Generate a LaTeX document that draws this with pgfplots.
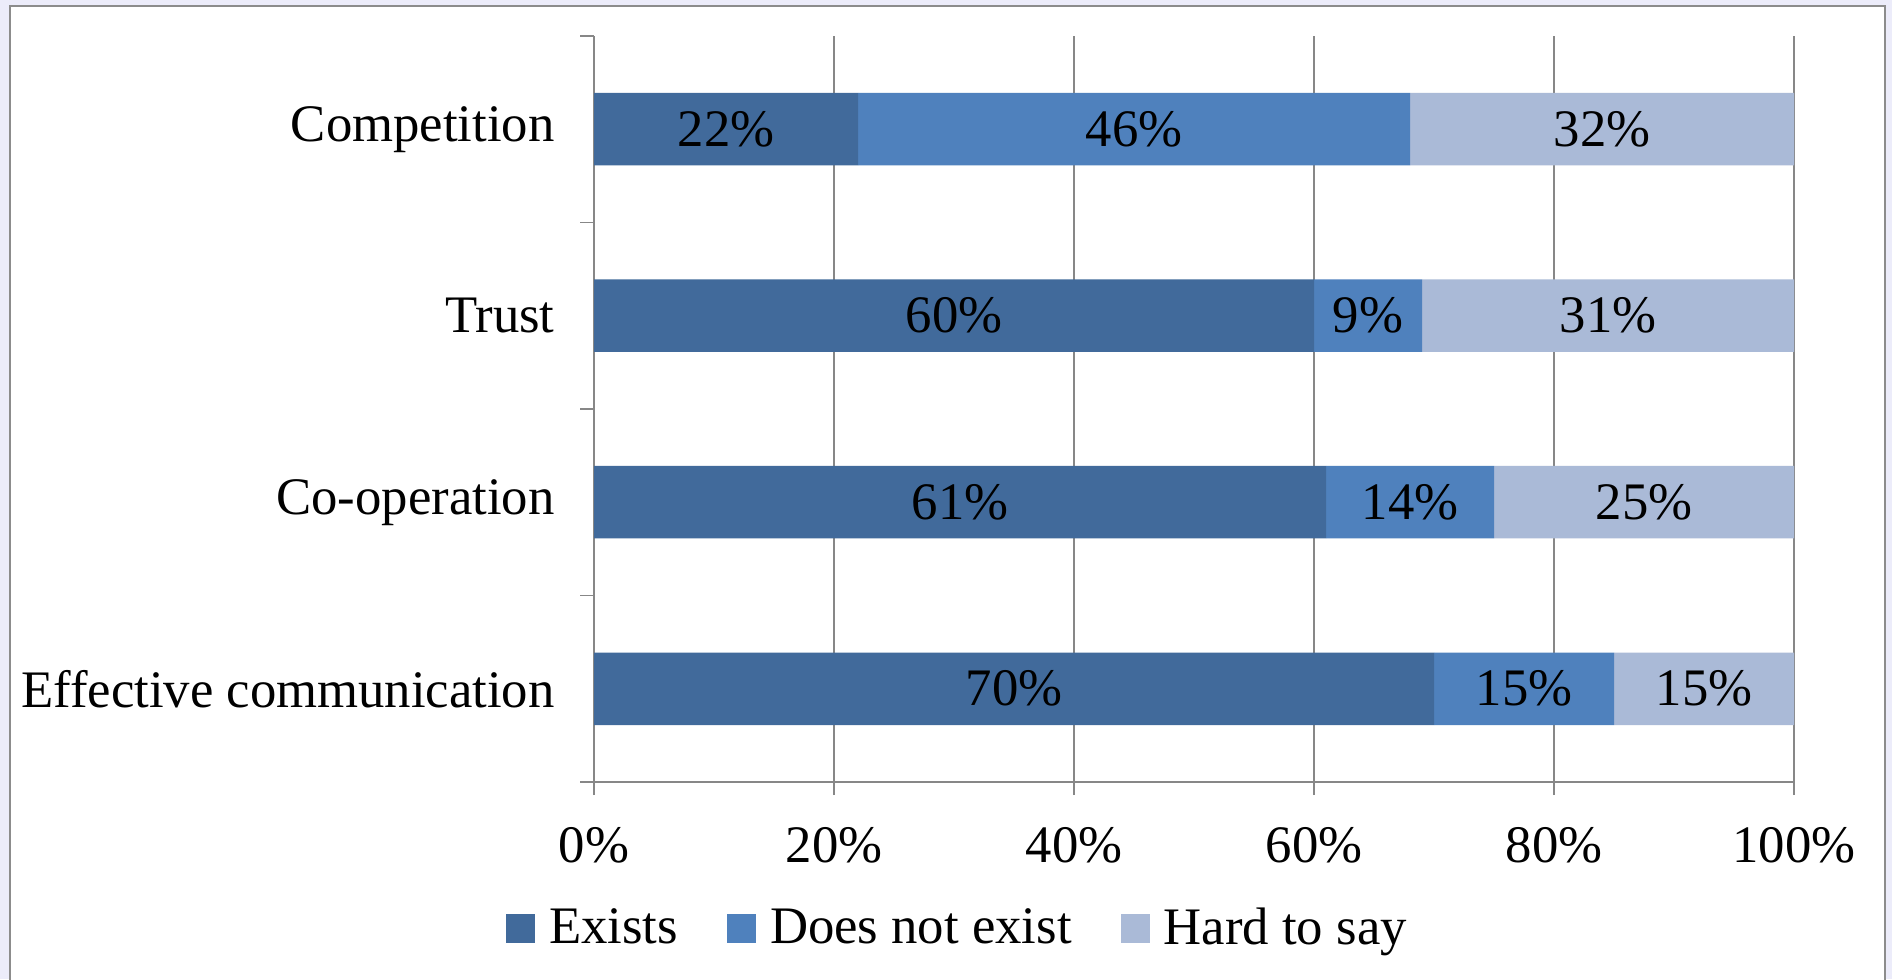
\documentclass[border=0pt]{standalone}
\usepackage{pgfplots}
\pgfplotsset{compat=1.18}
\usepackage{fontspec}
\setmainfont{Liberation Serif}
\definecolor{cA}{HTML}{416A9B}
\definecolor{cB}{HTML}{4F81BD}
\definecolor{cC}{HTML}{AABAD7}
\definecolor{bgl}{HTML}{ECECFA}
\definecolor{frm}{HTML}{8C8C8C}
\definecolor{grd}{HTML}{878787}
\newcommand{\lblfont}{\fontsize{15}{17}\selectfont}
\begin{document}
\begin{tikzpicture}
\useasboundingbox (0mm,0mm) rectangle (189.2mm,97.9mm);
\fill[bgl] (0mm,0mm) rectangle (189.2mm,97.9mm);
\fill[white] (1.0mm,-1mm) rectangle (188.5mm,97.3mm);
\draw[frm, line width=0.6pt] (1.0mm,-1mm) -- (1.0mm,97.3mm) -- (188.5mm,97.3mm) -- (188.5mm,-1mm);
\begin{axis}[
  at={(59.4mm,19.7mm)}, anchor=south west,
  scale only axis, width=120mm, height=74.6mm,
  xbar stacked, bar width=7.25mm,
  xmin=0, xmax=100, ymin=-0.5, ymax=3.5,
  axis x line*=bottom, axis y line*=left,
  axis line style={grd, line width=0.5pt},
  tick align=outside,
  major tick length=1.3mm, minor tick length=1.4mm,
  tick style={grd, line width=0.5pt},
  xtick={0,20,40,60,80,100},
  xticklabel={\pgfmathprintnumber{\tick}\%},
  /pgf/number format/assume math mode=true,
  ytick={0,1,2,3},
  yticklabels={Effective communication,Co-operation,Trust,Competition},
  minor ytick={-0.5,0.5,1.5,2.5,3.5},
  major y tick style={draw=none},
  xmajorgrids, major grid style={grd, line width=0.5pt},
  tick label style={font=\lblfont, text=black},
  xticklabel style={anchor=center, yshift=-5.0mm},
  yticklabel style={anchor=east, xshift=-1.4mm},
  point meta=rawx,
  nodes near coords={\pgfmathprintnumber{\pgfplotspointmeta}\%},
  nodes near coords style={font=\lblfont, text=black},
  legend columns=3,
  legend style={draw=none, fill=none, at={(0.305,-0.197)}, anchor=center, font=\lblfont,
    /tikz/every even column/.append style={column sep=4.2mm}},
  legend image code/.code={\fill[#1] (0mm,-1.45mm) rectangle (2.9mm,1.45mm); \path (3.6mm,0mm);},
]
\addplot[fill=cA, draw=none] coordinates {(70,0) (61,1) (60,2) (22,3)};
\addplot[fill=cB, draw=none] coordinates {(15,0) (14,1) (9,2) (46,3)};
\addplot[fill=cC, draw=none] coordinates {(15,0) (25,1) (31,2) (32,3)};
\legend{Exists,Does not exist,Hard to say}
\end{axis}
\end{tikzpicture}
\end{document}
